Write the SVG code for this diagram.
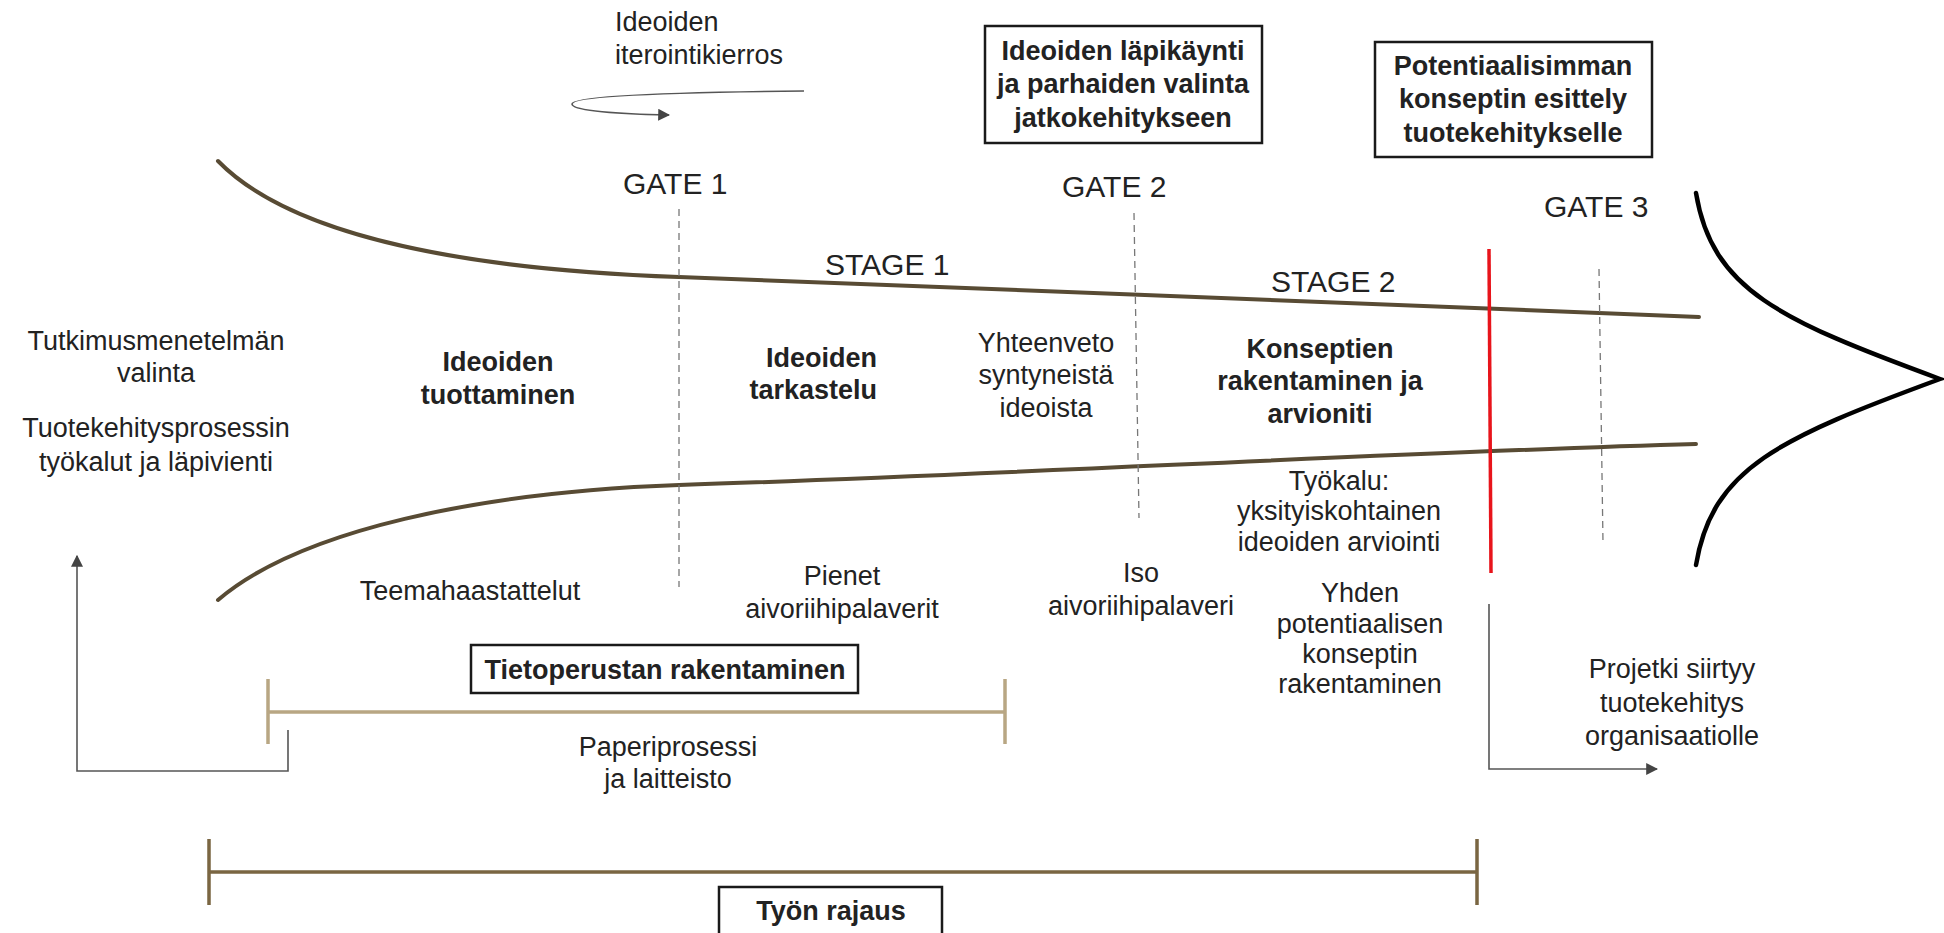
<svg xmlns="http://www.w3.org/2000/svg" width="1944" height="933" viewBox="0 0 1944 933">
<style>
  text { font-family: "Liberation Sans", Arial, sans-serif; font-size: 27px; fill: #222; }
  .b { font-weight: bold; }
  .c { text-anchor: middle; }
  .e { text-anchor: end; }
  .g { font-size: 30px; }
  .box { fill: #fff; stroke: #1a1a1a; stroke-width: 2.5; }
  .funnel { fill: none; stroke: #584b34; stroke-width: 4; stroke-linecap: round; }
  .dash { stroke: #777; stroke-width: 1.3; stroke-dasharray: 7 5; fill: none; }
  .conn { fill: none; stroke: #555; stroke-width: 1.6; }
</style>
<defs>
  <marker id="ah" viewBox="0 0 10 10" refX="9" refY="5" markerWidth="12" markerHeight="12" markerUnits="userSpaceOnUse" orient="auto">
    <path d="M0,0 L10,5 L0,10 Z" fill="#444"/>
  </marker>
</defs>
<rect width="1944" height="933" fill="#fff"/>

<g id="funnel">
  <path class="funnel" d="M218,161 C295,240 480,270 679,277 C1000,289 1400,305 1699,317"/>
  <path class="funnel" d="M218,600 C300,530 480,492 679,485 C1000,475 1400,452 1696,444"/>
  <path d="M1696,193 C1712,290 1780,320 1940,379 C1780,438 1712,468 1696,565" fill="none" stroke="#000" stroke-width="4.5" stroke-linecap="round"/>
</g>

<g id="gates">
  <line class="dash" x1="679" y1="209" x2="679" y2="587"/>
  <line class="dash" x1="1134" y1="213" x2="1139" y2="518"/>
  <line class="dash" x1="1599" y1="269" x2="1603" y2="543"/>
  <line x1="1489" y1="249" x2="1491" y2="573" stroke="#e8141b" stroke-width="3.5"/>
  <text class="g" x="623" y="194">GATE 1</text>
  <text class="g" x="1062" y="197">GATE 2</text>
  <text class="g" x="1544" y="217">GATE 3</text>
  <text class="g" x="825" y="275">STAGE 1</text>
  <text class="g" x="1271" y="292">STAGE 2</text>
</g>

<g id="connectors">
  <path class="conn" d="M804,91 C700,92 572,95 572,104 C572,111 620,114 669,115" marker-end="url(#ah)"/>
  <path class="conn" d="M288,730 V771 H77 V556" marker-end="url(#ah)"/>
  <path class="conn" d="M1489,604 V769 H1657" marker-end="url(#ah)"/>
</g>

<g id="iteration">
  <text x="615" y="31">Ideoiden</text>
  <text x="615" y="64">iterointikierros</text>
</g>

<g id="box-gate2">
  <rect class="box" x="985" y="26" width="277" height="117"/>
  <text class="b c" x="1123" y="60">Ideoiden läpikäynti</text>
  <text class="b c" x="1123" y="93">ja parhaiden valinta</text>
  <text class="b c" x="1123" y="127">jatkokehitykseen</text>
</g>

<g id="box-gate3">
  <rect class="box" x="1375" y="42" width="277" height="115"/>
  <text class="b c" x="1513" y="75">Potentiaalisimman</text>
  <text class="b c" x="1513" y="108">konseptin esittely</text>
  <text class="b c" x="1513" y="142">tuotekehitykselle</text>
</g>

<g id="method">
  <text class="c" x="156" y="350">Tutkimusmenetelmän</text>
  <text class="c" x="156" y="382">valinta</text>
  <text class="c" x="156" y="437">Tuotekehitysprosessin</text>
  <text class="c" x="156" y="471">työkalut ja läpivienti</text>
</g>

<g id="ideas-gen">
  <text class="b c" x="498" y="371">Ideoiden</text>
  <text class="b c" x="498" y="404">tuottaminen</text>
  <text class="c" x="470" y="600">Teemahaastattelut</text>
</g>

<g id="ideas-review">
  <text class="b e" x="877" y="367">Ideoiden</text>
  <text class="b e" x="877" y="399">tarkastelu</text>
  <text class="c" x="842" y="585">Pienet</text>
  <text class="c" x="842" y="618">aivoriihipalaverit</text>
</g>

<g id="summary">
  <text class="c" x="1046" y="352">Yhteenveto</text>
  <text class="c" x="1046" y="384">syntyneistä</text>
  <text class="c" x="1046" y="417">ideoista</text>
  <text class="c" x="1141" y="582">Iso</text>
  <text class="c" x="1141" y="615">aivoriihipalaveri</text>
</g>

<g id="concepts">
  <text class="b c" x="1320" y="358">Konseptien</text>
  <text class="b c" x="1320" y="390">rakentaminen ja</text>
  <text class="b c" x="1320" y="423">arvioniti</text>
  <text class="c" x="1339" y="490">Työkalu:</text>
  <text class="c" x="1339" y="520">yksityiskohtainen</text>
  <text class="c" x="1339" y="551">ideoiden arviointi</text>
  <text class="c" x="1360" y="602">Yhden</text>
  <text class="c" x="1360" y="633">potentiaalisen</text>
  <text class="c" x="1360" y="663">konseptin</text>
  <text class="c" x="1360" y="693">rakentaminen</text>
</g>

<g id="transfer">
  <text class="c" x="1672" y="678">Projetki siirtyy</text>
  <text class="c" x="1672" y="712">tuotekehitys</text>
  <text class="c" x="1672" y="745">organisaatiolle</text>
</g>

<g id="knowledge">
  <path d="M268,679 V744 M268,712 H1005 M1005,679 V744" fill="none" stroke="#b8a683" stroke-width="3.5"/>
  <rect class="box" x="471" y="645" width="387" height="48"/>
  <text class="b c" x="665" y="679">Tietoperustan rakentaminen</text>
  <text class="c" x="668" y="756">Paperiprosessi</text>
  <text class="c" x="668" y="788">ja laitteisto</text>
</g>

<g id="scope">
  <path d="M209,839 V905 M209,872 H1477 M1477,839 V905" fill="none" stroke="#7a6642" stroke-width="3.5"/>
  <rect class="box" x="719" y="887" width="223" height="60"/>
  <text class="b c" x="831" y="920">Työn rajaus</text>
</g>
</svg>
